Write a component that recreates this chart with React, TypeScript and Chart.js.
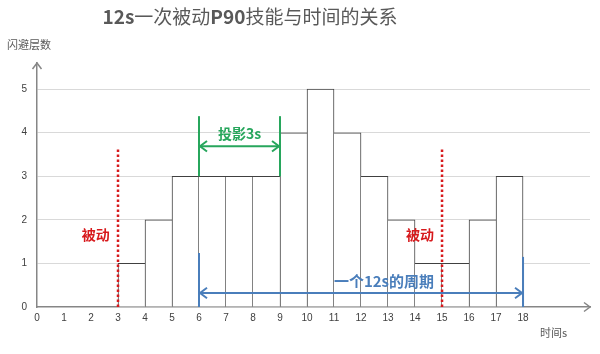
import React, { useEffect, useRef } from "react";
import { Chart, registerables } from "chart.js";

Chart.register(...registerables);

// ---- data ----
const startTimes = [3, 4, 5, 6, 7, 8, 9, 10, 11, 12, 13, 14, 15, 16, 17];
const dodgeLayers = [1, 2, 3, 3, 3, 3, 4, 5, 4, 3, 2, 1, 1, 2, 3];
const xTickValues = [0, 1, 2, 3, 4, 5, 6, 7, 8, 9, 10, 11, 12, 13, 14, 15, 16, 17, 18];
const yTickValues = [0, 1, 2, 3, 4, 5];

const passiveTimes = [3, 15];
const passiveLineTop = 3.62;
const passiveLabelOffset = -0.82;
const passiveLabelY = 1.67;

const shadowRange = [6, 9];
const shadowLineRange = [3, 4.38];
const shadowArrowY = 3.69;
const shadowLabelY = 3.98;

const cycleRange = [6, 18];
const cycleLineTops = [1.24, 1.15];
const cycleArrowY = 0.32;
const cycleLabelX = 12.85;
const cycleLabelY = 0.6;

const titleParts: [string, boolean][] = [
  ["12s", true],
  ["一次被动", false],
  ["P90", true],
  ["技能与时间的关系", false],
];
const yAxisTitle = "闪避层数";
const xAxisTitle = "时间s";
const passiveText = "被动";
const shadowText = "投影3s";
const cycleText = "一个12s的周期";

const CJK = '"Noto Sans CJK SC", "Noto Sans", sans-serif';
const RED = "#d7191c";
const GREEN = "#27a65c";
const BLUE = "#4a7ebb";
const AXIS = "#868686";

function chevron(ctx: CanvasRenderingContext2D, x: number, y: number, dir: "left" | "right" | "up", size: number) {
  ctx.beginPath();
  if (dir === "left") {
    ctx.moveTo(x + size, y - size * 0.75);
    ctx.lineTo(x, y);
    ctx.lineTo(x + size, y + size * 0.75);
  } else if (dir === "right") {
    ctx.moveTo(x - size, y - size * 0.75);
    ctx.lineTo(x, y);
    ctx.lineTo(x - size, y + size * 0.75);
  } else {
    ctx.moveTo(x - size * 0.75, y + size);
    ctx.lineTo(x, y);
    ctx.lineTo(x + size * 0.75, y + size);
  }
  ctx.stroke();
}

function doubleArrow(ctx: CanvasRenderingContext2D, x1: number, x2: number, y: number, color: string, w: number) {
  ctx.save();
  ctx.strokeStyle = color;
  ctx.lineWidth = w;
  ctx.beginPath();
  ctx.moveTo(x1, y);
  ctx.lineTo(x2, y);
  ctx.stroke();
  chevron(ctx, x1 + 1, y, "left", 7);
  chevron(ctx, x2 - 1, y, "right", 7);
  ctx.restore();
}

const overlayPlugin = {
  id: "overlay",
  afterDatasetsDraw(chart: any) {
    const { ctx, scales, chartArea } = chart;
    const x = scales.x;
    const y = scales.y;

    // axis arrows
    ctx.save();
    ctx.strokeStyle = AXIS;
    ctx.lineWidth = 1.5;
    chevron(ctx, chartArea.left, chartArea.top, "up", 6);
    chevron(ctx, chartArea.right, y.getPixelForValue(0), "right", 6);
    ctx.restore();

    // passive (red dotted) lines
    ctx.save();
    ctx.strokeStyle = RED;
    ctx.lineWidth = 2.5;
    ctx.setLineDash([2.5, 2.5]);
    passiveTimes.forEach((t) => {
      const px = x.getPixelForValue(t);
      ctx.beginPath();
      ctx.moveTo(px, y.getPixelForValue(0));
      ctx.lineTo(px, y.getPixelForValue(passiveLineTop));
      ctx.stroke();
    });
    ctx.restore();
    ctx.save();
    ctx.fillStyle = RED;
    ctx.font = `bold 14px ${CJK}`;
    ctx.textAlign = "center";
    ctx.textBaseline = "middle";
    passiveTimes.forEach((t) => {
      ctx.fillText(passiveText, x.getPixelForValue(t + passiveLabelOffset), y.getPixelForValue(passiveLabelY));
    });
    ctx.restore();

    // shadow (green)
    ctx.save();
    ctx.strokeStyle = GREEN;
    ctx.lineWidth = 2;
    shadowRange.forEach((t) => {
      const px = x.getPixelForValue(t);
      ctx.beginPath();
      ctx.moveTo(px, y.getPixelForValue(shadowLineRange[0]));
      ctx.lineTo(px, y.getPixelForValue(shadowLineRange[1]));
      ctx.stroke();
    });
    ctx.restore();
    doubleArrow(ctx, x.getPixelForValue(shadowRange[0]), x.getPixelForValue(shadowRange[1]), y.getPixelForValue(shadowArrowY), GREEN, 2);
    ctx.save();
    ctx.fillStyle = GREEN;
    ctx.font = `bold 14px ${CJK}`;
    ctx.textAlign = "center";
    ctx.textBaseline = "middle";
    ctx.fillText(shadowText, x.getPixelForValue((shadowRange[0] + shadowRange[1]) / 2), y.getPixelForValue(shadowLabelY));
    ctx.restore();

    // cycle (blue)
    ctx.save();
    ctx.strokeStyle = BLUE;
    ctx.lineWidth = 2;
    cycleRange.forEach((t, i) => {
      const px = x.getPixelForValue(t);
      ctx.beginPath();
      ctx.moveTo(px, y.getPixelForValue(0));
      ctx.lineTo(px, y.getPixelForValue(cycleLineTops[i]));
      ctx.stroke();
    });
    ctx.restore();
    doubleArrow(ctx, x.getPixelForValue(cycleRange[0]), x.getPixelForValue(cycleRange[1]), y.getPixelForValue(cycleArrowY), BLUE, 2);
    ctx.save();
    ctx.fillStyle = BLUE;
    ctx.font = `bold 15px ${CJK}`;
    ctx.textAlign = "center";
    ctx.textBaseline = "middle";
    ctx.fillText(cycleText, x.getPixelForValue(cycleLabelX), y.getPixelForValue(cycleLabelY));
    ctx.restore();
  },
  afterDraw(chart: any) {
    const { ctx } = chart;
    // title
    ctx.save();
    ctx.fillStyle = "#595959";
    ctx.textBaseline = "middle";
    ctx.textAlign = "left";
    const fontFor = (bold: boolean) => `${bold ? "bold" : "normal"} 19px ${CJK}`;
    let total = 0;
    titleParts.forEach(([s, b]) => {
      ctx.font = fontFor(b);
      total += ctx.measureText(s).width;
    });
    let cx = 250 - total / 2;
    titleParts.forEach(([s, b]) => {
      ctx.font = fontFor(b);
      ctx.fillText(s, cx, 17);
      cx += ctx.measureText(s).width;
    });
    // axis titles
    ctx.font = `11px ${CJK}`;
    ctx.fillStyle = "#595959";
    ctx.fillText(yAxisTitle, 7, 45);
    ctx.fillText(xAxisTitle, 540, 333);
    ctx.restore();
  },
};

export default function App() {
  const ref = useRef<HTMLCanvasElement | null>(null);
  useEffect(() => {
    if (!ref.current) return;
    const heights = dodgeLayers;
    const chart = new Chart(ref.current, {
      type: "bar",
      data: {
        datasets: [
          {
            data: startTimes.map((t, i) => ({ x: t + 0.5, y: dodgeLayers[i] })),
            backgroundColor: "#ffffff",
            borderColor: "#404040",
            borderWidth: (c: any) => {
              const i = c.dataIndex;
              const h = heights[i];
              const prev = i > 0 ? heights[i - 1] : 0;
              const next = i < heights.length - 1 ? heights[i + 1] : 0;
              return { top: 1, bottom: 0, left: prev < h ? 1 : 0, right: next <= h ? 1 : 0 };
            },
            borderSkipped: false,
            barPercentage: 1,
            categoryPercentage: 1,
          } as any,
        ],
      },
      options: {
        animation: false,
        responsive: true,
        maintainAspectRatio: false,
        layout: { padding: { top: 63, right: 10, left: 0, bottom: 0 } },
        plugins: { legend: { display: false }, tooltip: { enabled: false }, title: { display: false } },
        scales: {
          x: {
            type: "linear",
            offset: false,
            min: 0,
            max: 20.48,
            afterBuildTicks: (axis: any) => {
              axis.ticks = xTickValues.map((v) => ({ value: v }));
            },
            afterFit: (axis: any) => {
              axis.height = 47;
            },
            grid: { display: false, drawTicks: false, offset: false },
            border: { display: true, color: AXIS, width: 1.5 },
            ticks: {
              padding: 5,
              color: "#404040",
              font: { size: 10, family: '"Liberation Sans", "DejaVu Sans", sans-serif' },
              maxRotation: 0,
              autoSkip: false,
            },
          },
          y: {
            type: "linear",
            min: 0,
            max: 5.6,
            afterBuildTicks: (axis: any) => {
              axis.ticks = yTickValues.map((v) => ({ value: v }));
            },
            afterFit: (axis: any) => {
              axis.width = 37;
            },
            grid: {
              drawTicks: false,
              color: (c: any) => (c.tick && c.tick.value === 0 ? "rgba(0,0,0,0)" : "#d9d9d9"),
              lineWidth: 1,
            },
            border: { display: true, color: AXIS, width: 1.5 },
            ticks: {
              padding: 10,
              color: "#404040",
              font: { size: 10, family: '"Liberation Sans", "DejaVu Sans", sans-serif' },
            },
          },
        },
      },
      plugins: [overlayPlugin],
    } as any);
    return () => chart.destroy();
  }, []);
  return (
    <div style={{ position: "absolute", left: 0, top: 0, width: 600, height: 354, background: "#ffffff" }}>
      <canvas ref={ref} />
    </div>
  );
}
